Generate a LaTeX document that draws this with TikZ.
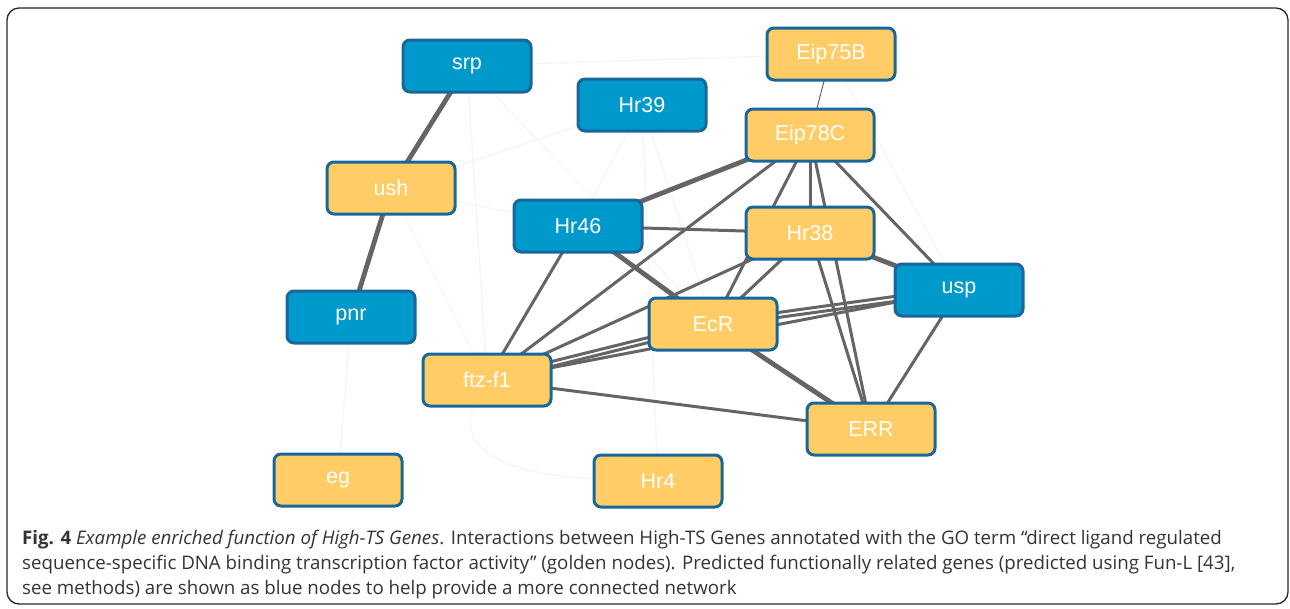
\documentclass[tikz,border=0pt]{standalone}
\usepackage{fontspec}
\setmainfont{Open Sans}
\newfontfamily\genefont{Liberation Sans}
\pgfdeclarelayer{background}
\pgfsetlayers{background,main}
\definecolor{predblue}{HTML}{0099CC}
\definecolor{golden}{HTML}{FFCC66}
\definecolor{rim}{HTML}{19679A}
\definecolor{wire}{HTML}{656565}
\definecolor{capgray}{HTML}{333333}

\begin{document}
\begin{tikzpicture}[x=1pt,y=-1pt,
    gene/.style={draw=rim,line width=3pt,rounded corners=7pt,
      minimum width=128pt,minimum height=52pt,text=white,
      font=\genefont\fontsize{21.5}{25}\selectfont},
    goldgene/.style={gene,fill=golden},
    bluegene/.style={gene,fill=predblue},
    link/.style={wire,line width=3pt},
    heavy/.style={wire,line width=4.8pt},
    faint/.style={black!4,line width=1.2pt},
    capline/.style={anchor=base west,inner sep=0pt,text=capgray,
      font=\fontsize{18.7}{22}\selectfont}]
        \useasboundingbox (0,0) rectangle (1290,608);
        \draw [line width=1.3pt,black!85,rounded corners=12pt] (7,8) rectangle (1288,604);
        % genes
        \node [bluegene] (srp)    at (467,66)  {srp};
        \node [bluegene] (hr39)   at (642,105) {Hr39};
        \node [goldgene] (eip75b) at (831,54)  {Eip75B};
        \node [goldgene] (eip78c) at (810,135) {Eip78C};
        \node [goldgene] (ush)    at (391,188) {ush};
        \node [bluegene] (hr46)   at (578,226) {Hr46};
        \node [goldgene] (hr38)   at (810,233) {Hr38};
        \node [bluegene] (usp)    at (959,290) {usp};
        \node [bluegene] (pnr)    at (351,317) {pnr};
        \node [goldgene] (ecr)    at (713,324) {EcR};
        \node [goldgene] (ftz)    at (487,380) {ftz-f1};
        \node [goldgene] (err)    at (871,429) {ERR};
        \node [goldgene] (eg)     at (338,480) {eg};
        \node [goldgene] (hr4)    at (658,481) {Hr4};
        \begin{pgfonlayer}{background}
        % weak links
        \draw [faint] (srp.center) -- (eip75b.center);
        \draw [faint] (srp.center) -- (ftz.center);
        \draw [faint] (srp.center) -- (ecr.center);
        \draw [faint] (ush.center) -- (hr39.center);
        \draw [faint] (ush.center) -- (hr46.center);
        \draw [faint] (ush.center) -- (ftz.center);
        \draw [faint] (pnr.center) -- (eg.center);
        \draw [faint] (hr39.center) -- (hr46.center);
        \draw [faint] (hr39.center) -- (ecr.center);
        \draw [faint] (hr39.center) -- (hr4.center);
        \draw [faint] (eip75b.center) -- (usp.center);
        \draw [faint] (ftz.center) to[out=235,in=180,looseness=1.4] (hr4.center);
        % strong links
        \draw [heavy] (srp.center) -- (ush.center);
        \draw [heavy] (ush.center) -- (pnr.center);
        \draw [wire,line width=1pt] (eip75b.center) -- (eip78c.center);
        \draw [heavy] (eip78c.center) -- (hr46.center);
        \draw [link] (eip78c.center) -- (ftz.center);
        \draw [link] (eip78c.center) -- (ecr.center);
        \draw [link] (eip78c.center) -- (hr38.center);
        \draw [link] (eip78c.center) -- (err.center);
        \draw [link] (eip78c.center) -- (usp.center);
        \draw [link] (hr46.center) -- (hr38.center);
        \draw [heavy] (hr46.center) -- (ecr.center);
        \draw [link] (hr46.center) -- (ftz.center);
        \draw [link] (hr38.center) -- (ecr.center);
        \draw [link] (hr38.center) -- (ftz.center);
        \draw [heavy] (hr38.center) -- (usp.center);
        \draw [link] (hr38.center) -- (err.center);
        \draw [link] ([yshift=-2.5pt]ftz.center) -- ([yshift=-2.5pt]ecr.center);
        \draw [link] ([yshift=2.5pt]ftz.center) -- ([yshift=2.5pt]ecr.center);
        \draw [link] (ftz.center) -- (usp.center);
        \draw [link] ([yshift=-2.5pt]ecr.center) -- ([yshift=-2.5pt]usp.center);
        \draw [link] ([yshift=2.5pt]ecr.center) -- ([yshift=2.5pt]usp.center);
        \draw [heavy] (ecr.center) -- (err.center);
        \draw [link] (ftz.center) -- (err.center);
        \draw [link] (usp.center) -- (err.center);
        \end{pgfonlayer}
        % caption
        \node [capline] (cap1) at (22,544) {\textbf{Fig. 4} \textit{Example enriched function of High-TS Genes}. Interactions between High-TS Genes annotated with the GO term “direct ligand regulated};
        \node [capline] (cap2) at (22,569) {sequence-specific DNA binding transcription factor activity” (golden nodes). Predicted functionally related genes (predicted using Fun-L [43],};
        \node [capline] (cap3) at (22,594) {see methods) are shown as blue nodes to help provide a more connected network};
\end{tikzpicture}
\end{document}
